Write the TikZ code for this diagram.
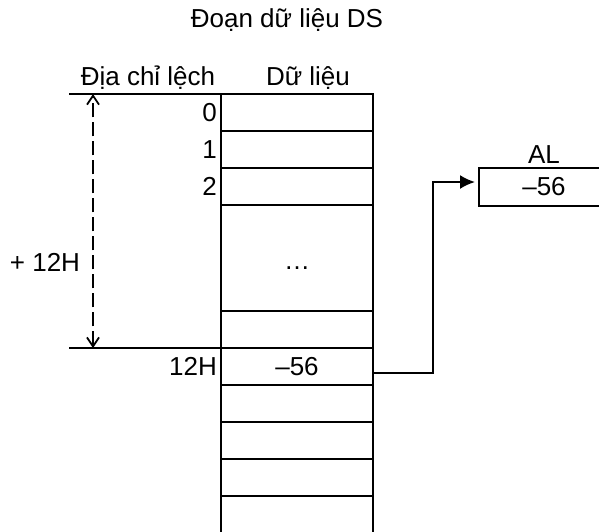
\documentclass[tikz,border=0pt]{standalone}
\usepackage{fontspec}
\setmainfont{Liberation Sans}
\usepackage{tikz}
\usetikzlibrary{arrows.meta,positioning,calc}

\begin{document}
\begin{tikzpicture}[
  x=1pt,y=-1pt,
  font=\fontsize{26}{30}\selectfont,
  cell/.style={draw,line width=2pt,outer sep=0pt,inner sep=0pt,minimum width=152pt,minimum height=37pt},
  offs/.style={inner sep=2pt},
  rule/.style={line width=2pt},
  span/.style={{Straight Barb[length=9pt,width=12pt]}-{Straight Barb[length=9pt,width=12pt]},line width=1.8pt,dash pattern=on 14pt off 5pt},
  ptr/.style={-{Latex[length=15pt,width=14pt]},line width=2pt}
]
\useasboundingbox (0,0) rectangle (599,531);
\node (title) at (287,20) {Đoạn dữ liệu DS};
\node (hoff) at (148,78) {Địa chỉ lệch};
\node (hdata) at (308,78) {Dữ liệu};
% data segment column
\node[cell] (r0) at (297,112.5) {};
\node[cell,below=0pt of r0] (r1) {};
\node[cell,below=0pt of r1] (r2) {};
\node[cell,below=0pt of r2,minimum height=106pt,label={[yshift=-10pt]center:\dots}] (rdots) {};
\node[cell,below=0pt of rdots] (r11) {};
\node[cell,below=0pt of r11] (r12) {--56};
\node[cell,below=0pt of r12] (r13) {};
\node[cell,below=0pt of r13] (r14) {};
\node[cell,below=0pt of r14] (r15) {};
\node[cell,below=0pt of r15] (r16) {};
% offsets
\node[offs,left=2pt of r0] (o0) {0};
\node[offs,left=2pt of r1] (o1) {1};
\node[offs,left=2pt of r2] (o2) {2};
\node[offs,left=2pt of r12] (o12) {12H};
\coordinate (ltop) at (69,94);
\coordinate (lbot) at (69,348);
\draw[rule] (ltop) -- (r0.north west);
\draw[rule] (lbot) -- (r12.north west);
\draw[span] ($(lbot)+(24,0)$) -- ($(ltop)+(24,0)$);
\node (disp) at (45,262) {+ 12H};
% register AL
\node[draw,line width=2pt,anchor=west,minimum width=142pt,minimum height=38pt,
  label={[xshift=-6pt]center:--56},label={[xshift=-6pt]above:AL}] (al) at (478,187) {};
\draw[ptr] ($(r12.east)+(0,6)$) -- ++(60,0) |- ($(al.west)+(-3,-5)$);
\end{tikzpicture}
\end{document}
